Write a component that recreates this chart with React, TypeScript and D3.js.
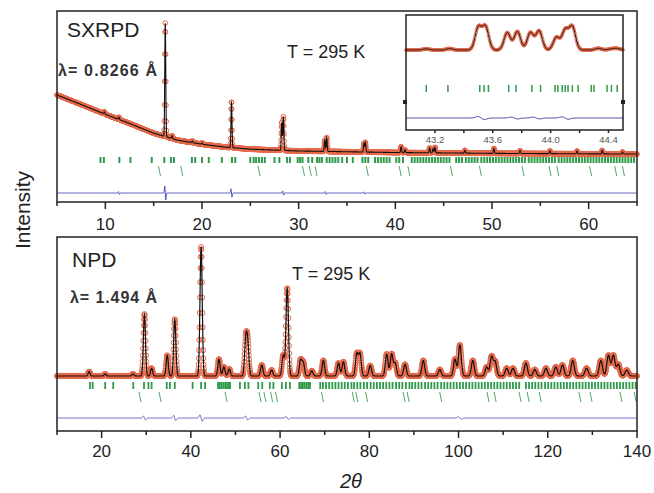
import React from "react";
import * as d3 from "d3";

// ---------------- SXRPD (top panel) ----------------
const sxBgPos = [5, 7.5, 10, 12.5, 15, 17.5, 20, 22.5, 25, 30, 40, 50, 65];
const sxBgVal = [49.3, 42.5, 35.5, 29, 22, 17, 14.1, 12, 10.6, 9.3, 8.2, 7.6, 7.1];
const sxPeakPos = [9.9, 11.4, 16.2, 16.9, 19.0, 20.0, 23.05, 28.25, 28.42, 32.7, 32.9, 36.75, 36.9, 40.6, 41.0, 43.55, 43.9, 44.1, 47.2, 50.2, 52.9, 56.0, 58.8, 61.4, 63.5];
const sxPeakH = [1.5, 1.5, 81, 2, 1.2, 1, 33, 20, 24, 8, 10, 6, 7, 4.3, 2, 3.5, 3, 4, 2, 3.5, 2, 2, 2, 2.5, 1.5];
const sxDiffPos = [11.4, 16.2, 23.05, 28.4, 32.8, 36.8];
const sxDiffAmp = [1, 5, 3, 1.5, 1, 0.8];
const sxTicks1 = [9.5, 9.85, 11.45, 12.6, 14.8, 16.1, 16.8, 17.1, 18.95, 19.3, 20.0, 20.7, 22.05, 23.1, 23.45, 25.0, 25.35, 25.6, 25.9, 26.2, 26.5, 27.5, 28.0, 28.8, 29.1, 29.9, 30.15, 30.4, 31.0, 31.4, 31.9, 32.15, 32.4, 32.9, 33.2, 33.5, 33.8, 34.1, 34.5, 35.0, 35.6, 36.6, 36.9, 37.2, 37.9, 38.2, 38.5, 38.8, 39.1, 39.4, 40.1, 40.4, 40.8, 41.7, 42.0, 42.3, 42.6, 42.9, 43.2, 43.5, 43.8, 44.1, 44.4, 44.7, 45.0, 45.3, 45.6, 46.3, 46.6, 46.9, 47.3, 47.6, 47.9, 48.2, 48.5, 48.9, 49.2, 49.5, 49.8, 50.1, 50.4, 50.7, 51.0, 51.3, 51.6, 51.9, 52.2, 52.5, 52.8, 53.1, 53.4, 53.8, 54.1, 54.4, 54.7, 55.0, 55.3, 55.6, 55.9, 56.2, 56.5, 56.9, 57.2, 57.5, 57.8, 58.1, 58.4, 58.7, 59.0, 59.3, 59.6, 59.9, 60.2, 60.5, 60.8, 61.1, 61.4, 61.7, 62.0, 62.3, 62.6, 62.9, 63.2, 63.5, 63.8, 64.1, 64.4, 64.7];
const sxTicks2 = [15.6, 17.9, 25.9, 30.5, 31.2, 31.8, 37.1, 40.5, 41.4, 45.8, 48.8, 53.2, 56.0, 56.8, 60.2, 62.8, 63.6];
const sxMajor = [10, 20, 30, 40, 50, 60];
const sxMinor = [5, 15, 25, 35, 45, 55, 65];

// ---------------- Inset (SXRPD zoom) ----------------
const inBase = 0;
const inPeakPos = [43.14, 43.30, 43.50, 43.55, 43.70, 43.77, 43.86, 43.92, 44.04, 44.10, 44.15, 44.33, 44.42, 44.46];
const inPeakH = [4, 5, 80, 82, 62, 66, 62, 68, 45, 70, 82, 6, 4, 5];
const inTicks = [43.14, 43.29, 43.51, 43.54, 43.57, 43.71, 43.76, 43.87, 43.93, 44.03, 44.05, 44.08, 44.10, 44.12, 44.15, 44.19, 44.28, 44.30, 44.39, 44.42, 44.46];
const inDiffPos = [43.52, 43.75, 43.9, 44.1];
const inDiffAmp = [5, 3, 3, 4];
const inMajor = [43.2, 43.6, 44.0, 44.4];
const inMinor = [43.4, 43.8, 44.2];

// ---------------- NPD (bottom panel) ----------------
const npBgPos = [10, 140];
const npBgVal = [0, 0];
const npPeakPos = [17.2, 20.8, 27.0, 29.6, 31.2, 34.7, 36.4, 42.3, 46.3, 47.4, 48.6, 52.3, 52.75, 55.9, 58.1, 60.7, 61.6, 64.6, 65.2, 67.1, 69.7, 73.1, 74.2, 77.2, 77.9, 80.2, 83.9, 85.0, 85.8, 88.0, 92.1, 95.8, 99.2, 100.3, 103.2, 106.3, 107.4, 108.2, 110.8, 112.2, 115.1, 117.1, 119.6, 121.8, 123.3, 125.6, 128.7, 131.9, 133.6, 134.7, 135.8, 137.7];
const npPeakH = [3.3, 1.5, 1.5, 48, 6, 16, 44, 100, 13, 7, 5.4, 26, 24, 8.5, 4.6, 16, 68, 12, 10, 4, 12, 10, 11, 17, 17, 8, 17, 17, 10, 9, 12, 5, 13, 24, 12, 7, 15, 11, 6, 6, 10, 5, 6, 7, 8.5, 12, 6, 12, 16, 16, 9, 4.5];
const npDiffPos = [29.6, 36.4, 42.3, 52.5, 61.6, 100.3];
const npDiffAmp = [1.5, 2, 2.5, 1.5, 1, 1];
const npTicks1 = [17.4, 18.0, 20.8, 22.6, 27.1, 29.5, 30.5, 31.2, 34.6, 35.3, 36.4, 40.4, 42.3, 43.2, 46.1, 46.5, 46.9, 47.3, 47.7, 48.1, 48.5, 48.8, 51.0, 52.1, 52.9, 55.1, 56.0, 57.7, 58.5, 60.4, 61.3, 62.2, 64.3, 64.7, 65.1, 65.5, 65.9, 66.3, 66.7, 69.0, 69.6, 70.3, 71.0, 71.7, 72.4, 73.1, 73.8, 74.5, 75.2, 76.0, 76.6, 77.3, 78.0, 78.8, 79.5, 80.3, 81.0, 81.7, 82.4, 83.1, 83.8, 84.5, 85.2, 86.0, 86.7, 87.4, 88.2, 89.0, 89.6, 90.3, 91.0, 91.7, 92.5, 93.2, 93.9, 94.6, 95.3, 96.1, 96.8, 97.5, 98.2, 98.9, 99.6, 100.3, 101.0, 101.7, 102.4, 103.1, 103.8, 104.5, 105.2, 105.9, 106.6, 107.3, 108.0, 108.7, 109.4, 110.1, 110.8, 111.5, 112.2, 112.9, 113.6, 115.1, 115.8, 116.5, 117.2, 117.9, 118.6, 119.4, 120.1, 120.8, 121.5, 122.2, 122.9, 123.6, 124.3, 125.0, 125.7, 126.4, 127.1, 127.8, 128.5, 129.2, 129.9, 130.6, 131.3, 132.0, 132.7, 133.4, 134.1, 134.8, 135.5, 136.2, 136.9, 137.6, 138.3, 139.0, 139.7];
const npTicks2 = [28.6, 33.1, 47.9, 55.5, 56.6, 58.1, 59.2, 69.5, 76.4, 77.2, 79.4, 87.8, 88.7, 96.0, 106.6, 108.2, 113.8, 115.6, 118.3, 127.2, 129.7, 136.4, 139.6];
const npMajor = [20, 40, 60, 80, 100, 120, 140];
const npMinor = [10, 30, 50, 70, 90, 110, 130];

const OBS = "#e2502c";
const CALC = "#111";
const GREEN = "#2f9a4a";
const BLUE = "#4646b4";
const FONT = "'Liberation Sans', Arial, sans-serif";

type Prof = { bgPos: number[]; bgVal: number[]; pos: number[]; h: number[]; sig: (p: number) => number };

function intensity(x: number, pr: Prof) {
  const bg = d3.scaleLinear().domain(pr.bgPos).range(pr.bgVal).clamp(true);
  let s = bg(x);
  for (let i = 0; i < pr.pos.length; i++) {
    const sg = pr.sig(pr.pos[i]);
    const u = (x - pr.pos[i]) / sg;
    if (Math.abs(u) < 7) s += pr.h[i] * Math.exp(-0.5 * u * u);
  }
  return s;
}
function diffVal(x: number, pos: number[], amp: number[], sig: (p: number) => number) {
  let s = 0;
  for (let i = 0; i < pos.length; i++) {
    const sg = sig(pos[i]);
    const u = (x - pos[i]) / sg;
    if (Math.abs(u) < 7) s += amp[i] * -u * Math.exp(0.5 - 0.5 * u * u);
  }
  return s;
}

function Panel(props: {
  x: d3.ScaleLinear<number, number>; y: d3.ScaleLinear<number, number>; pr: Prof;
  step: number; obsStep: number; r: number;
  ticks1: number[]; ticks2: number[] | null; t1: [number, number]; t2: [number, number]; tw: number;
  diffPos: number[]; diffAmp: number[]; diffY: number; diffScale: number; diffColor: string;
  calcW: number;
}) {
  const { x, y, pr } = props;
  const [d0, d1] = x.domain();
  const grid = d3.range(d0, d1 + 1e-9, props.step);
  const obsGrid = d3.range(d0, d1 + 1e-9, props.obsStep);
  const line = d3.line<number>().x((v) => x(v)).y((v) => y(intensity(v, pr)));
  const dline = d3.line<number>().x((v) => x(v)).y((v) => props.diffY - props.diffScale * diffVal(v, props.diffPos, props.diffAmp, pr.sig));
  return (
    <g>
      <path d={dline(grid) || ""} fill="none" stroke={props.diffColor} strokeWidth={1} />
      {props.ticks1.map((t, i) => (
        <line key={"a" + i} x1={x(t)} x2={x(t)} y1={props.t1[0]} y2={props.t1[1]} stroke={GREEN} strokeWidth={props.tw} />
      ))}
      {props.ticks2 && props.ticks2.map((t, i) => (
        <line key={"b" + i} x1={x(t) - 1} x2={x(t) + 1} y1={props.t2[0]} y2={props.t2[1]} stroke={GREEN} strokeWidth={1} opacity={0.85} />
      ))}
      <g fill="none" stroke={OBS} strokeWidth={1} opacity={0.85}>
        {obsGrid.map((v, i) => (
          <circle key={i} cx={x(v)} cy={y(intensity(v, pr))} r={props.r} />
        ))}
      </g>
      <path d={line(grid) || ""} fill="none" stroke={CALC} strokeWidth={props.calcW} />
    </g>
  );
}

function Axis(props: { x: d3.ScaleLinear<number, number>; y0: number; major: number[]; minor: number[]; fs: number; ly: number; len: number; mlen: number; color?: string; fmt?: (v: number) => string }) {
  const { x, y0 } = props;
  return (
    <g>
      {props.major.map((t) => (
        <line key={"M" + t} x1={x(t)} x2={x(t)} y1={y0} y2={y0 + props.len} stroke="#222" strokeWidth={1.5} />
      ))}
      {props.minor.map((t) => (
        <line key={"m" + t} x1={x(t)} x2={x(t)} y1={y0} y2={y0 + props.mlen} stroke="#222" strokeWidth={1.5} />
      ))}
      {props.major.map((t) => (
        <text key={"L" + t} x={x(t)} y={props.ly} textAnchor="middle" fontSize={props.fs} fill={props.color || "#222"} fontFamily={FONT}>
          {props.fmt ? props.fmt(t) : String(t)}
        </text>
      ))}
    </g>
  );
}

export default function App() {
  // top panel
  const xT = d3.scaleLinear().domain([5, 65]).range([57, 637]);
  const yT = d3.scaleLinear().domain([0, 100]).range([164, 24]);
  const prT: Prof = { bgPos: sxBgPos, bgVal: sxBgVal, pos: sxPeakPos, h: sxPeakH, sig: () => 0.05 };
  // inset
  const xI = d3.scaleLinear().domain([43.0, 44.5]).range([406, 623]);
  const yI = d3.scaleLinear().domain([0, 100]).range([50, 22]);
  const prI: Prof = { bgPos: [43, 44.5], bgVal: [inBase, inBase], pos: inPeakPos, h: inPeakH, sig: () => 0.022 };
  // bottom panel
  const xB = d3.scaleLinear().domain([10, 140]).range([57, 637]);
  const yB = d3.scaleLinear().domain([0, 100]).range([376, 247]);
  const prB: Prof = { bgPos: npBgPos, bgVal: npBgVal, pos: npPeakPos, h: npPeakH, sig: (p) => 0.2 + 0.0012 * p };

  return (
    <svg width={654} height={493} style={{ position: "absolute", left: 0, top: 0, background: "#fff" }}>
      <rect x={0} y={0} width={654} height={493} fill="#fff" />
      {/* top panel */}
      <Panel x={xT} y={yT} pr={prT} step={0.01} obsStep={0.02} r={2.3}
        ticks1={sxTicks1} ticks2={sxTicks2} t1={[157, 163]} t2={[166, 176]} tw={2}
        diffPos={sxDiffPos} diffAmp={sxDiffAmp} diffY={193} diffScale={1.4} diffColor={BLUE} calcW={1.1} />
      <rect x={57} y={11} width={580} height={191} fill="none" stroke="#222" strokeWidth={1.5} />
      <Axis x={xT} y0={202} major={sxMajor} minor={sxMinor} fs={17} ly={230} len={7} mlen={4} />
      <text x={67} y={37} fontSize={21} fontFamily={FONT} fill="#222">SXRPD</text>
      <text x={58} y={76} fontSize={16} fontWeight={600} fontFamily={FONT} fill="#333" textLength={99} lengthAdjust="spacing">λ= 0.8266 Å</text>
      <text x={287} y={58} fontSize={18} fontFamily={FONT} fill="#222">T = 295 K</text>

      {/* inset */}
      <rect x={406} y={15} width={217} height={115} fill="#fff" />
      <Panel x={xI} y={yI} pr={prI} step={0.002} obsStep={0.004} r={1.4}
        ticks1={inTicks} ticks2={null} t1={[85, 92]} t2={[0, 0]} tw={1.5}
        diffPos={inDiffPos} diffAmp={inDiffAmp} diffY={118} diffScale={0.3} diffColor="#333399" calcW={1} />
      <rect x={406} y={15} width={217} height={115} fill="none" stroke="#222" strokeWidth={1.5} />
      <rect x={403} y={100} width={4} height={4} fill="#222" />
      <rect x={621} y={100} width={4} height={4} fill="#222" />
      <Axis x={xI} y0={130} major={inMajor} minor={inMinor} fs={9.5} ly={143} len={3} mlen={3} color="#555" fmt={(v) => v.toFixed(1)} />

      {/* bottom panel */}
      <Panel x={xB} y={yB} pr={prB} step={0.02} obsStep={0.05} r={2.5}
        ticks1={npTicks1} ticks2={npTicks2} t1={[382, 389]} t2={[392, 402]} tw={1.8}
        diffPos={npDiffPos} diffAmp={npDiffAmp} diffY={418} diffScale={1.29} diffColor="#5a5ac0" calcW={1.2} />
      <rect x={57} y={237} width={580} height={194} fill="none" stroke="#222" strokeWidth={1.5} />
      <Axis x={xB} y0={431} major={npMajor} minor={npMinor} fs={17} ly={457} len={7} mlen={4} />
      <text x={72} y={267} fontSize={21} fontFamily={FONT} fill="#222">NPD</text>
      <text x={70} y={303} fontSize={16} fontWeight={600} fontFamily={FONT} fill="#333" textLength={87} lengthAdjust="spacing">λ= 1.494 Å</text>
      <text x={292} y={280} fontSize={18} fontFamily={FONT} fill="#222">T = 295 K</text>

      {/* axis titles */}
      <text transform="translate(30,210) rotate(-90)" textAnchor="middle" fontSize={21} fontFamily={FONT} fill="#222">Intensity</text>
      <text x={351} y={488} textAnchor="middle" fontSize={20} fontStyle="italic" fontFamily={FONT} fill="#222">2θ</text>
    </svg>
  );
}
